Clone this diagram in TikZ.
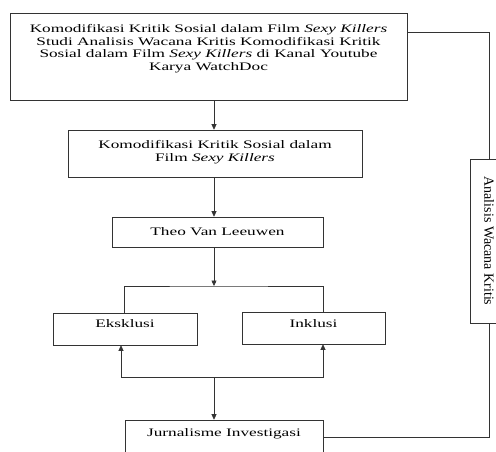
\documentclass[tikz,border=0pt]{standalone}
\usepackage{fontspec}
\setmainfont{Liberation Serif}[FakeStretch=1.5]
\newfontfamily\tegak{Liberation Serif}
\usepackage{tikz}
\usetikzlibrary{arrows.meta}

\begin{document}
\begin{tikzpicture}[
    x=1pt, y=1pt,
    kotak/.style={rectangle, draw=black!80, line width=0.6pt, inner sep=0pt, align=center,
                  font=\fontsize{11.5}{12.5}\selectfont},
    garis/.style={draw=black!80, line width=0.6pt},
    panah/.style={garis, -{Triangle[length=5.5pt,width=5pt]}}
]
    % Batas gambar
    \clip (0,0) rectangle (496,451);
    \fill[white] (0,0) rectangle (496,451);

    % Judul penelitian
    \node[kotak, minimum width=397, minimum height=87, text depth=18pt]
        (judul) at (208.5,394.5)
        {Komodifikasi Kritik Sosial dalam Film \textit{Sexy Killers}\\
         Studi Analisis Wacana Kritis Komodifikasi Kritik\\
         Sosial dalam Film \textit{Sexy Killers} di Kanal Youtube\\
         Karya WatchDoc};

    % Fokus
    \node[kotak, minimum width=294, minimum height=47, text depth=5.5pt]
        (komodifikasi) at (215,297.5)
        {Komodifikasi Kritik Sosial dalam\\ Film \textit{Sexy Killers}};

    % Teori
    \node[kotak, minimum width=211, minimum height=30] (theo) at (217.5,219) {Theo Van Leeuwen};

    % Eksklusi dan inklusi
    \node[kotak, minimum width=144, minimum height=32, text height=8pt, text depth=12pt]
        (eksklusi) at (125,122) {Eksklusi};
    \node[kotak, minimum width=143, minimum height=32, text height=8pt, text depth=10pt]
        (inklusi) at (313.5,123) {Inklusi};

    % Hasil
    \node[kotak, minimum width=198, minimum height=36, text height=8pt, text depth=12pt]
        (jurnal) at (224,13) {Jurnalisme Investigasi};

    % Pisau analisis
    \node[kotak, minimum width=38, minimum height=164] (analisis) at (489,210)
        {\rotatebox{-90}{\tegak\fontsize{14}{16}\selectfont Analisis Wacana Kritis}};

    % Titik cabang
    \coordinate (sumbu) at (214,0);
    \coordinate (cabangatas) at (214,165);
    \coordinate (cabangbawah) at (214,74);

    % Alur utama
    \draw[panah] (judul.south -| sumbu) -- (komodifikasi.north -| sumbu);
    \draw[panah] (komodifikasi.south -| sumbu) -- (theo.north -| sumbu);
    \draw[panah] (theo.south -| sumbu) -- (cabangatas);
    \draw[garis] ([xshift=-1pt]eksklusi.north) |- (cabangatas) -| ([xshift=9.5pt]inklusi.north);
    \draw[panah] (cabangbawah) -| ([xshift=-4pt]eksklusi.south);
    \draw[panah] (cabangbawah) -| ([xshift=9.5pt]inklusi.south);
    \draw[panah] (cabangbawah) -- (jurnal.north -| cabangbawah);

    % Hubungan dengan analisis wacana kritis
    \draw[garis] ([yshift=24.5pt]judul.east) -| (analisis.north);
    \draw[garis] ([yshift=1pt]jurnal.east) -| (analisis.south);
\end{tikzpicture}
\end{document}
